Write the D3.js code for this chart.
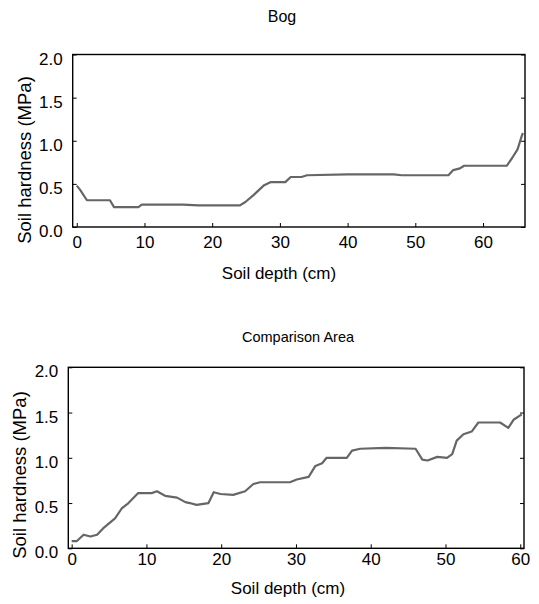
<!DOCTYPE html>
<html>
<head>
<meta charset="utf-8">
<script src="https://cdn.jsdelivr.net/npm/d3@7"></script>
<style>
  body { margin: 0; background: #fff; }
  svg text { font-family: "Liberation Sans", Arial, sans-serif; fill: #000; }
</style>
</head>
<body>
<svg id="chart" width="539" height="604"></svg>
<script>
// Bog profile: depth (cm) and hardness (MPa)
const bogDepth = [0, 0.5, 1.5, 4.9, 5.5, 9.1, 9.6, 15.7, 18, 24.1, 24.9, 26.1, 27.6, 28.6, 30.8, 31.6, 33.2, 34.0, 40, 46.8, 48, 54.9, 55.6, 56.6, 57.2, 63.5, 64.3, 65.1, 65.7, 65.9];
const bogHard  = [0.48, 0.43, 0.31, 0.31, 0.23, 0.23, 0.26, 0.26, 0.25, 0.25, 0.29, 0.37, 0.48, 0.52, 0.52, 0.58, 0.58, 0.60, 0.61, 0.61, 0.60, 0.60, 0.66, 0.68, 0.71, 0.71, 0.80, 0.90, 1.05, 1.09];

// Comparison area profile
const cmpDepth = [0, 0.7, 1.6, 2.5, 3.4, 4.2, 5.8, 6.7, 7.6, 8.9, 10.7, 11.4, 12.5, 14.1, 15.2, 15.8, 16.7, 18.3, 19.0, 19.9, 21.6, 23.2, 24.3, 25.2, 29.2, 30.1, 31.7, 32.6, 33.5, 34.1, 36.8, 37.5, 38.6, 42, 46.0, 46.9, 47.6, 48.9, 50.2, 50.9, 51.5, 52.4, 53.5, 54.4, 57.3, 58.4, 59.1, 60.2];
const cmpHard  = [0.08, 0.08, 0.15, 0.13, 0.15, 0.22, 0.33, 0.44, 0.50, 0.61, 0.61, 0.63, 0.58, 0.56, 0.51, 0.50, 0.48, 0.50, 0.62, 0.60, 0.59, 0.63, 0.71, 0.73, 0.73, 0.76, 0.79, 0.91, 0.94, 1.00, 1.00, 1.08, 1.10, 1.11, 1.10, 0.98, 0.97, 1.01, 1.00, 1.04, 1.19, 1.26, 1.29, 1.39, 1.39, 1.33, 1.42, 1.48];

const xTicks = [0, 10, 20, 30, 40, 50, 60];
const yTicks = [0, 0.5, 1.0, 1.5, 2.0];

const svg = d3.select("#chart");

const panels = [
  { title: "Bog", depth: bogDepth, hard: bogHard, titleSize: 16,
    left: 72.7, right: 525, top: 54.5, bottom: 227, xDomain: [-0.6, 66.2],
    titleX: 282, titleY: 22, xLabPad: 9, xTitleX: 279, xTitleY: 279, yTitleX: 25, yTitleY: 160 },
  { title: "Comparison Area", depth: cmpDepth, hard: cmpHard, titleSize: 14.5,
    left: 68.3, right: 524, top: 367.3, bottom: 548.3, xDomain: [-0.45, 60.5],
    titleX: 298, titleY: 342, xLabPad: 5, xTitleX: 288, xTitleY: 594, yTitleX: 20, yTitleY: 475 }
];

panels.forEach(p => {
  const g = svg.append("g");

  const x = d3.scaleLinear().domain(p.xDomain).range([p.left, p.right]);
  const y = d3.scaleLinear().domain([0, 2]).range([p.bottom, p.top]);

  // axes with small inward ticks
  g.append("g")
    .attr("transform", `translate(0,${p.bottom})`)
    .call(d3.axisBottom(x).tickValues(xTicks).tickSize(-4).tickPadding(p.xLabPad).tickFormat(d3.format("d")))
    .call(a => a.select(".domain").remove())
    .call(a => a.selectAll("text").attr("font-size", 17).attr("dy", "0.71em"));

  g.append("g")
    .attr("transform", `translate(${p.left},0)`)
    .call(d3.axisLeft(y).tickValues(yTicks).tickSize(-4).tickPadding(10).tickFormat(d3.format(".1f")))
    .call(a => a.select(".domain").remove())
    .call(a => a.selectAll("text").attr("font-size", 17).attr("dy", "0.56em"));

  g.append("g")
    .attr("transform", `translate(${p.right},0)`)
    .call(d3.axisRight(y).tickValues(yTicks).tickSize(-4).tickFormat(""))
    .call(a => a.select(".domain").remove());

  // frame
  g.append("rect")
    .attr("x", p.left).attr("y", p.top)
    .attr("width", p.right - p.left).attr("height", p.bottom - p.top)
    .attr("fill", "none").attr("stroke", "#000").attr("stroke-width", 1.4);

  // data line
  const pts = p.depth.map((d, i) => [d, p.hard[i]]);
  g.append("path")
    .datum(pts)
    .attr("fill", "none")
    .attr("stroke", "#666")
    .attr("stroke-width", 2.2)
    .attr("stroke-linejoin", "round")
    .attr("d", d3.line().x(d => x(d[0])).y(d => y(d[1])));

  // titles
  g.append("text")
    .attr("x", p.titleX).attr("y", p.titleY)
    .attr("text-anchor", "middle").attr("font-size", p.titleSize)
    .text(p.title);

  g.append("text")
    .attr("x", p.xTitleX).attr("y", p.xTitleY)
    .attr("text-anchor", "middle").attr("font-size", 17)
    .text("Soil depth (cm)");

  g.append("text")
    .attr("transform", `translate(${p.yTitleX},${p.yTitleY}) rotate(-90)`)
    .attr("text-anchor", "middle").attr("dy", "0.35em").attr("font-size", 18.5)
    .text("Soil hardness (MPa)");
});
</script>
</body>
</html>
